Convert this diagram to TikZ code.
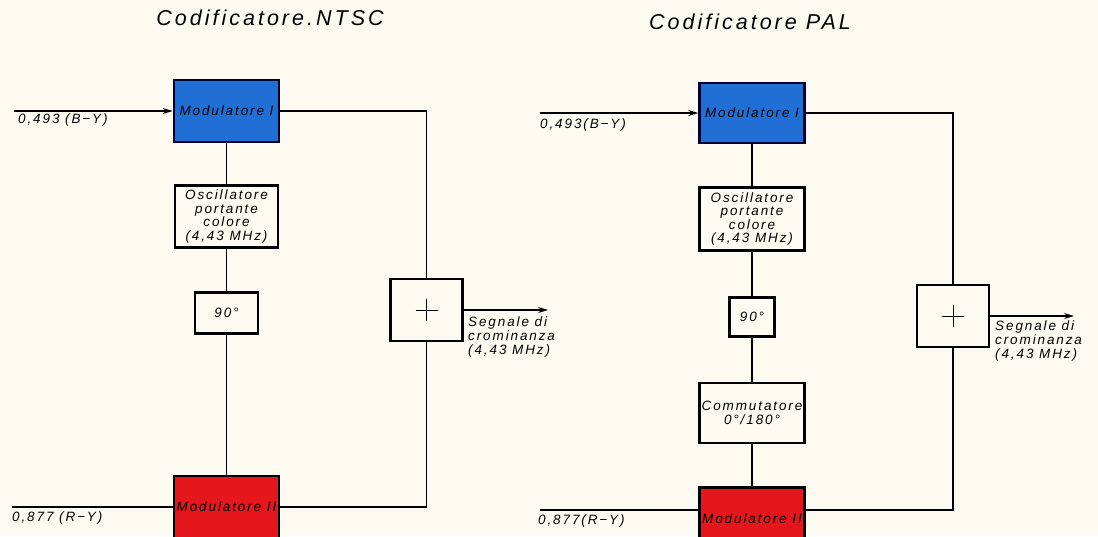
\documentclass[tikz,border=0pt]{standalone}
\usepackage{fontspec}
\setmainfont{Liberation Sans}
\newfontfamily\drawfont[LetterSpace=14]{Liberation Sans}
\newfontfamily\titlefont[LetterSpace=14]{Liberation Sans}
\usetikzlibrary{arrows.meta,positioning}
\definecolor{paper}{HTML}{FDFBF1}
\definecolor{modblue}{HTML}{1F6FD4}
\definecolor{modred}{HTML}{E5161C}

\begin{document}
\begin{tikzpicture}[
  x=1pt, y=-1pt,
  blk/.style={draw, line width=2.6pt, minimum width=105pt, minimum height=62pt,
              font=\fontsize{13.5}{13.5}\selectfont\drawfont\itshape,
              align=center, inner sep=1pt, fill=paper},
  modb/.style={blk, fill=modblue, draw=black!80!blue},
  modr/.style={blk, fill=modred},
  sumb/.style={draw, line width=2.6pt, minimum width=72pt, minimum height=62pt,
               path picture={\draw[line width=1pt]
                 ([xshift=-11pt]path picture bounding box.center) -- ++(22pt,0)
                 ([yshift=-11pt]path picture bounding box.center) -- ++(0,22pt);}},
  lbl/.style={font=\fontsize{13.5}{14}\selectfont\drawfont\itshape,
              anchor=north west, inner sep=0pt, align=left},
  ttl/.style={font=\fontsize{21.5}{24}\selectfont\titlefont\itshape},
  ln/.style={line width=1.1pt},
  ar/.style={ln, -{Stealth[length=10pt, width=6pt]}},
  node distance=41pt
]
  \clip (0,0) rectangle (1098,536);
  \fill[paper] (0,0) rectangle (1098,536);

  % NTSC
  \node[ttl] (tN) at (270,18) {Codificatore.NTSC};
  \node[modb] (modI) at (226.5,111) {Modulatore I};
  \node[blk, minimum width=103pt, below=41pt of modI] (osc)
    {Oscillatore\\portante\\colore\\(4,43 MHz)};
  \node[blk, minimum width=63pt, minimum height=41pt, below=42pt of osc] (ph) {90°};
  \node[modr] (modII) at (226.5,507) {Modulatore II};
  \node[sumb] (sum) at (426.5,310) {};
  \coordinate (inB) at (14,111);
  \coordinate (inR) at (12,507);
  \coordinate (outN) at (548,310);
  \node[lbl] (lB) at (18,114) {0,493 (B−Y)};
  \node[lbl] (lR) at (12,512) {0,877 (R−Y)};
  \node[lbl] (sigN) at (468,317) {Segnale di\\crominanza\\(4,43 MHz)};

  \draw[ar] (inB)--(inB -| modI.west);
  \draw[ln] (inR)--(inR -| modII.west);
  \draw[ln] (modI)--(osc);
  \draw[ln] (osc)--(ph);
  \draw[ln] (ph)--(modII);
  \draw[ln] (modI.east) -| (sum.north);
  \draw[ln] (modII.east) -| (sum.south);
  \draw[ar] (sum.east)--(outN);

  % PAL
  \node[ttl] (tP) at (750,22) {Codificatore PAL};
  \node[modb, minimum height=60pt] (pmodI) at (752,113) {Modulatore I};
  \node[blk, minimum height=63pt, below=42pt of pmodI] (posc)
    {Oscillatore\\portante\\colore\\(4,43 MHz)};
  \node[blk, minimum width=45pt, minimum height=39pt, below=44pt of posc] (pph) {90°};
  \node[blk, minimum height=60pt, below=44pt of pph] (pcom) {Commutatore\\0°/180°};
  \node[modr, below=42pt of pcom] (pmodII) {Modulatore II};
  \node[sumb] (psum) at (953,316) {};
  \coordinate (pinB) at (540,113);
  \coordinate (pinR) at (540,510);
  \coordinate (outP) at (1074,316);
  \node[lbl] (plB) at (540,119) {0,493(B−Y)};
  \node[lbl] (plR) at (538,515) {0,877(R−Y)};
  \node[lbl] (sigP) at (995,321) {Segnale di\\crominanza\\(4,43 MHz)};

  \draw[ar] (pinB)--(pinB -| pmodI.west);
  \draw[ln] (pinR)--(pinR -| pmodII.west);
  \draw[ln] (pmodI)--(posc);
  \draw[ln] (posc)--(pph);
  \draw[ln] (pph)--(pcom);
  \draw[ln] (pcom)--(pmodII);
  \draw[ln] (pmodI.east) -| (psum.north);
  \draw[ln] (pinR -| pmodII.east) -| (psum.south);
  \draw[ar] (psum.east)--(outP);
\end{tikzpicture}
\end{document}
